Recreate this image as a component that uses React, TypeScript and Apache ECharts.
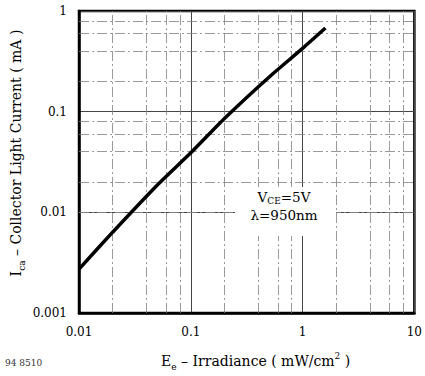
import React, { useEffect, useRef } from "react";
import * as echarts from "echarts";

// Irradiance (mW/cm²) vs collector light current (mA)
const irradiance = [0.01, 0.02, 0.05, 0.1, 0.2, 0.5, 1, 1.6];
const lightCurrent = [0.00273, 0.00635, 0.0186, 0.039, 0.0855, 0.22, 0.425, 0.677];

const xTicks = ["0.01", "0.1", "1", "10"];
const yTicks = ["0.001", "0.01", "0.1", "1"];

const xMinorGrid = [0.02, 0.04, 0.06, 0.08, 0.2, 0.4, 0.6, 0.8, 2, 4, 6, 8];
const yMinorGrid = [0.002, 0.004, 0.006, 0.008, 0.02, 0.04, 0.06, 0.08, 0.2, 0.4, 0.6, 0.8];

const FONT = "DejaVu Serif";

function pick(list: string[], v: number) {
  for (const t of list) {
    if (Math.abs(Math.log10(Number(t)) - Math.log10(v)) < 1e-6) return t;
  }
  return "";
}

const richSubSup = {
  sub: { fontFamily: FONT, fontSize: 9, lineHeight: 9, verticalAlign: "bottom", color: "#000" },
  sup: { fontFamily: FONT, fontSize: 9, lineHeight: 9, verticalAlign: "top", color: "#000" },
};

export default function App() {
  const ref = useRef<HTMLDivElement>(null);
  useEffect(() => {
    if (!ref.current) return;
    const chart = echarts.init(ref.current, null, { renderer: "svg" });
    const minorLineStyle = { color: "#808080", width: 0.8, type: [10, 3, 2, 3] as any };
    chart.setOption({
      animation: false,
      backgroundColor: "#fff",
      grid: {
        left: 79,
        right: 10,
        top: 11,
        bottom: 61,
        show: true,
        borderColor: "#000",
        borderWidth: 2.5,
        backgroundColor: "transparent",
      },
      xAxis: {
        type: "log",
        logBase: 10,
        min: 0.01,
        max: 10,
        axisLine: { show: true, lineStyle: { color: "#000", width: 2.5 } },
        axisTick: { show: false },
        splitLine: { show: true, lineStyle: { color: "#444", width: 1 } },
        axisLabel: {
          fontFamily: FONT,
          fontSize: 12,
          color: "#000",
          margin: 13,
          formatter: (v: number) => pick(xTicks, v),
        },
        name: "E{sub|e} – Irradiance ( mW/cm{sup|2} )",
        nameLocation: "middle",
        nameGap: 38,
        nameTextStyle: {
          fontFamily: FONT,
          fontSize: 14,
          color: "#000",
          lineHeight: 20,
          padding: [0, 0, 0, 18],
          rich: richSubSup,
        },
      },
      yAxis: {
        type: "log",
        logBase: 10,
        min: 0.001,
        max: 1,
        axisLine: { show: true, lineStyle: { color: "#000", width: 2.5 } },
        axisTick: { show: false },
        splitLine: { show: true, lineStyle: { color: "#444", width: 1 } },
        axisLabel: {
          fontFamily: FONT,
          fontSize: 12,
          color: "#000",
          margin: 12,
          formatter: (v: number) => pick(yTicks, v),
        },
      },
      graphic: [
        {
          type: "rect",
          z: 100,
          shape: { x: 235, y: 187, width: 101, height: 49 },
          style: { fill: "#fff" },
        },
        {
          type: "text",
          z: 101,
          x: 284,
          y: 197,
          style: {
            text: "V{sub|CE}=5V",
            fontFamily: FONT,
            fontSize: 13.5,
            lineHeight: 16,
            fill: "#000",
            align: "center",
            verticalAlign: "middle",
            rich: {
              sub: { fontFamily: FONT, fontSize: 9, lineHeight: 9, verticalAlign: "bottom", color: "#000" },
            },
          },
        },
        {
          type: "text",
          z: 101,
          x: 284,
          y: 215,
          style: {
            text: "λ=950nm",
            fontFamily: FONT,
            fontSize: 13.5,
            fill: "#000",
            align: "center",
            verticalAlign: "middle",
          },
        },
        {
          type: "text",
          z: 101,
          x: 16,
          y: 153,
          rotation: Math.PI / 2,
          style: {
            text: "I{sub|ca} – Collector Light Current ( mA )",
            fontFamily: FONT,
            fontSize: 14,
            lineHeight: 20,
            fill: "#000",
            align: "center",
            verticalAlign: "middle",
            rich: richSubSup,
          },
        },
        {
          type: "text",
          z: 101,
          x: 5,
          y: 363,
          style: {
            text: "94 8510",
            fontFamily: FONT,
            fontSize: 9,
            fill: "#333",
            align: "left",
            verticalAlign: "middle",
          },
        },
      ],
      series: [
        {
          type: "line",
          data: [],
          z: 1,
          silent: true,
          markLine: {
            silent: true,
            symbol: "none",
            label: { show: false },
            lineStyle: minorLineStyle,
            emphasis: { disabled: true },
            data: [
              ...xMinorGrid.map((v) => ({ xAxis: v })),
              ...yMinorGrid.map((v) => ({ yAxis: v })),
            ],
          },
        },
        {
          type: "line",
          z: 5,
          data: irradiance.map((x, i) => [x, lightCurrent[i]]),
          showSymbol: false,
          smooth: 0.2,
          lineStyle: { color: "#000", width: 3.5 },
        },
      ],
    });
    return () => chart.dispose();
  }, []);
  return (
    <div
      ref={ref}
      style={{ position: "absolute", left: 0, top: 0, width: 425, height: 376, background: "#fff" }}
    />
  );
}
